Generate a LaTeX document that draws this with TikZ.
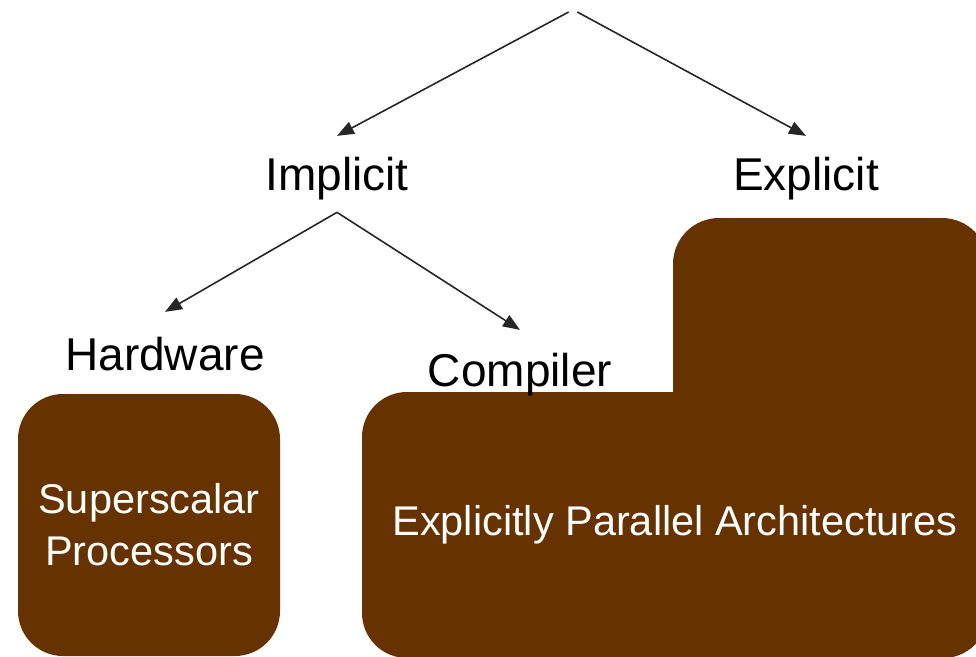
\documentclass[tikz,border=0pt]{standalone}
\usepackage{fontspec}
\setmainfont{Liberation Sans}
\usetikzlibrary{positioning, arrows.meta}
\definecolor{archbrown}{HTML}{663300}

\begin{document}
\begin{tikzpicture}[x=1pt, y=-1pt, >={Triangle[length=17pt,width=13pt]}, line width=1.6pt]
        \tikzset{branch/.style={inner sep=0pt, anchor=base, font=\fontsize{46}{55}\selectfont}}
        \tikzstyle{archbox}=[fill=archbrown, rounded corners=45pt, text=white, align=center, font=\fontsize{41.5}{52}\selectfont]
        \useasboundingbox (0,0) rectangle (976,656);

        \fill[archbrown, rounded corners=46pt] (673,218) rectangle (988,658);
        \node[archbox, minimum width=262pt, minimum height=262pt] (sup) at (149,525) {Superscalar\\Processors};
        \node[archbox, minimum width=626pt, minimum height=266pt] (epa) at (675,525) {Explicitly Parallel Architectures};

        \node[inner sep=0pt, minimum width=7pt] (root) at (573,12) {};
        \node[branch] (impl) at (337,190) {Implicit};
        \node[branch] (expl) at (806,190) {Explicit};
        \node[branch] (hw) at (165,370) {Hardware};
        \node[branch] (comp) at (520,386) {Compiler};
        \path[->, color=black!85]
        (root.west) edge ([yshift=20pt]impl.north)
        (root.east) edge ([yshift=20pt]expl.north)
        ([yshift=-12pt]impl.south) edge ([yshift=24pt]hw.north)
        ([yshift=-12pt]impl.south) edge ([yshift=22pt]comp.north);
    \end{tikzpicture}
\end{document}
